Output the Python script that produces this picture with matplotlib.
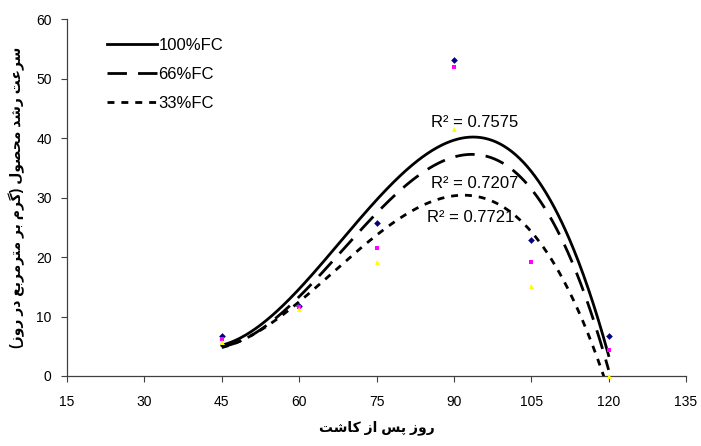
import numpy as np
import matplotlib
matplotlib.use("Agg")
import matplotlib.pyplot as plt

# ---- data ----
days = [45, 60, 75, 90, 105, 120]
fc100 = [6.7, 11.8, 25.7, 53.1, 22.9, 6.7]
fc66 = [6.2, 11.6, 21.5, 52.0, 19.2, 4.4]
fc33 = [5.7, 11.3, 19.2, 41.6, 15.2, 0.0]
series_labels = ["100%FC", "66%FC", "33%FC"]
r2_labels = ["R\u00b2 = 0.7575", "R\u00b2 = 0.7207", "R\u00b2 = 0.7721"]
xticks = [15, 30, 45, 60, 75, 90, 105, 120, 135]
yticks = [0, 10, 20, 30, 40, 50, 60]
xlabel_fa = "روز پس از کاشت"
ylabel_fa = "سرعت رشد محصول (گرم بر مترمربع در روز)"

# ---- simple Persian shaping (presentation forms, visual order) ----
FORMS = {
    'ا': ('\uFE8D', '\uFE8E', None, None),
    'ب': ('\uFE8F', '\uFE90', '\uFE91', '\uFE92'),
    'پ': ('\uFB56', '\uFB57', '\uFB58', '\uFB59'),
    'ت': ('\uFE95', '\uFE96', '\uFE97', '\uFE98'),
    'ح': ('\uFEA1', '\uFEA2', '\uFEA3', '\uFEA4'),
    'د': ('\uFEA9', '\uFEAA', None, None),
    'ر': ('\uFEAD', '\uFEAE', None, None),
    'ز': ('\uFEAF', '\uFEB0', None, None),
    'س': ('\uFEB1', '\uFEB2', '\uFEB3', '\uFEB4'),
    'ش': ('\uFEB5', '\uFEB6', '\uFEB7', '\uFEB8'),
    'ص': ('\uFEB9', '\uFEBA', '\uFEBB', '\uFEBC'),
    'ع': ('\uFEC9', '\uFECA', '\uFECB', '\uFECC'),
    'ک': ('\uFB8E', '\uFB8F', '\uFB90', '\uFB91'),
    'گ': ('\uFB92', '\uFB93', '\uFB94', '\uFB95'),
    'ل': ('\uFEDD', '\uFEDE', '\uFEDF', '\uFEE0'),
    'م': ('\uFEE1', '\uFEE2', '\uFEE3', '\uFEE4'),
    'و': ('\uFEED', '\uFEEE', None, None),
}


def dual(c):
    return c in FORMS and FORMS[c][2] is not None


def shape(text):
    out = []
    for i, c in enumerate(text):
        if c not in FORMS:
            out.append(c)
            continue
        prev = text[i - 1] if i > 0 else ''
        nxt = text[i + 1] if i + 1 < len(text) else ''
        jp = dual(prev)
        jn = dual(c) and nxt in FORMS
        iso, fin, ini, med = FORMS[c]
        if jp and jn:
            out.append(med)
        elif jp:
            out.append(fin)
        elif jn:
            out.append(ini)
        else:
            out.append(iso)
    vis = ''.join(reversed(out))
    vis = vis.translate(str.maketrans({'(': ')', ')': '('}))
    return vis


plt.rcParams['font.family'] = ['Liberation Sans', 'DejaVu Sans']

fig = plt.figure(figsize=(7.01, 4.46), dpi=100)
ax = fig.add_axes([0.0956, 0.157, 0.883, 0.800])

xs = np.linspace(45, 120, 400)
styles = ['-', (0, (7, 4)), (0, (2.5, 2.5))]
marker_specs = [('D', '#000080', 3.4), ('s', '#FF00FF', 2.8), ('^', '#FFFF00', 3.6)]
series = [fc100, fc66, fc33]

for vals, lab, ls in zip(series, series_labels, styles):
    coef = np.polyfit(days, vals, 3)
    ax.plot(xs, np.polyval(coef, xs), color='black', lw=2, linestyle=ls, label=lab)

for vals, (m, c, s) in zip(series, marker_specs):
    ax.plot(days, vals, linestyle='none', marker=m, color=c, markersize=s,
            markeredgewidth=0, clip_on=False, zorder=5)

ax.text(85.5, 42.7, r2_labels[0], fontsize=12, va='center', ha='left')
ax.text(85.5, 32.4, r2_labels[1], fontsize=12, va='center', ha='left')
ax.text(84.8, 26.7, r2_labels[2], fontsize=12, va='center', ha='left')

ax.set_xlim(15, 135)
ax.set_ylim(0, 60)
ax.set_xticks(xticks)
ax.set_yticks(yticks)
ax.tick_params(labelsize=10, length=4, width=0.8, color='#404040')
ax.tick_params(axis='x', pad=10)
ax.tick_params(axis='y', pad=7)
for side in ['top', 'right']:
    ax.spines[side].set_visible(False)
for side in ['left', 'bottom']:
    ax.spines[side].set_color('#404040')
    ax.spines[side].set_linewidth(0.9)

ax.set_xlabel(shape(xlabel_fa), fontsize=10, fontweight='bold', labelpad=8)
ax.set_ylabel(shape(ylabel_fa), fontsize=10, fontweight='bold', labelpad=8)

leg = ax.legend(loc='upper left', bbox_to_anchor=(0.04, 0.99), frameon=False,
                fontsize=12, handlelength=3.0, handletextpad=0.1, labelspacing=0.85)

fig.savefig('out.png', dpi=100)
